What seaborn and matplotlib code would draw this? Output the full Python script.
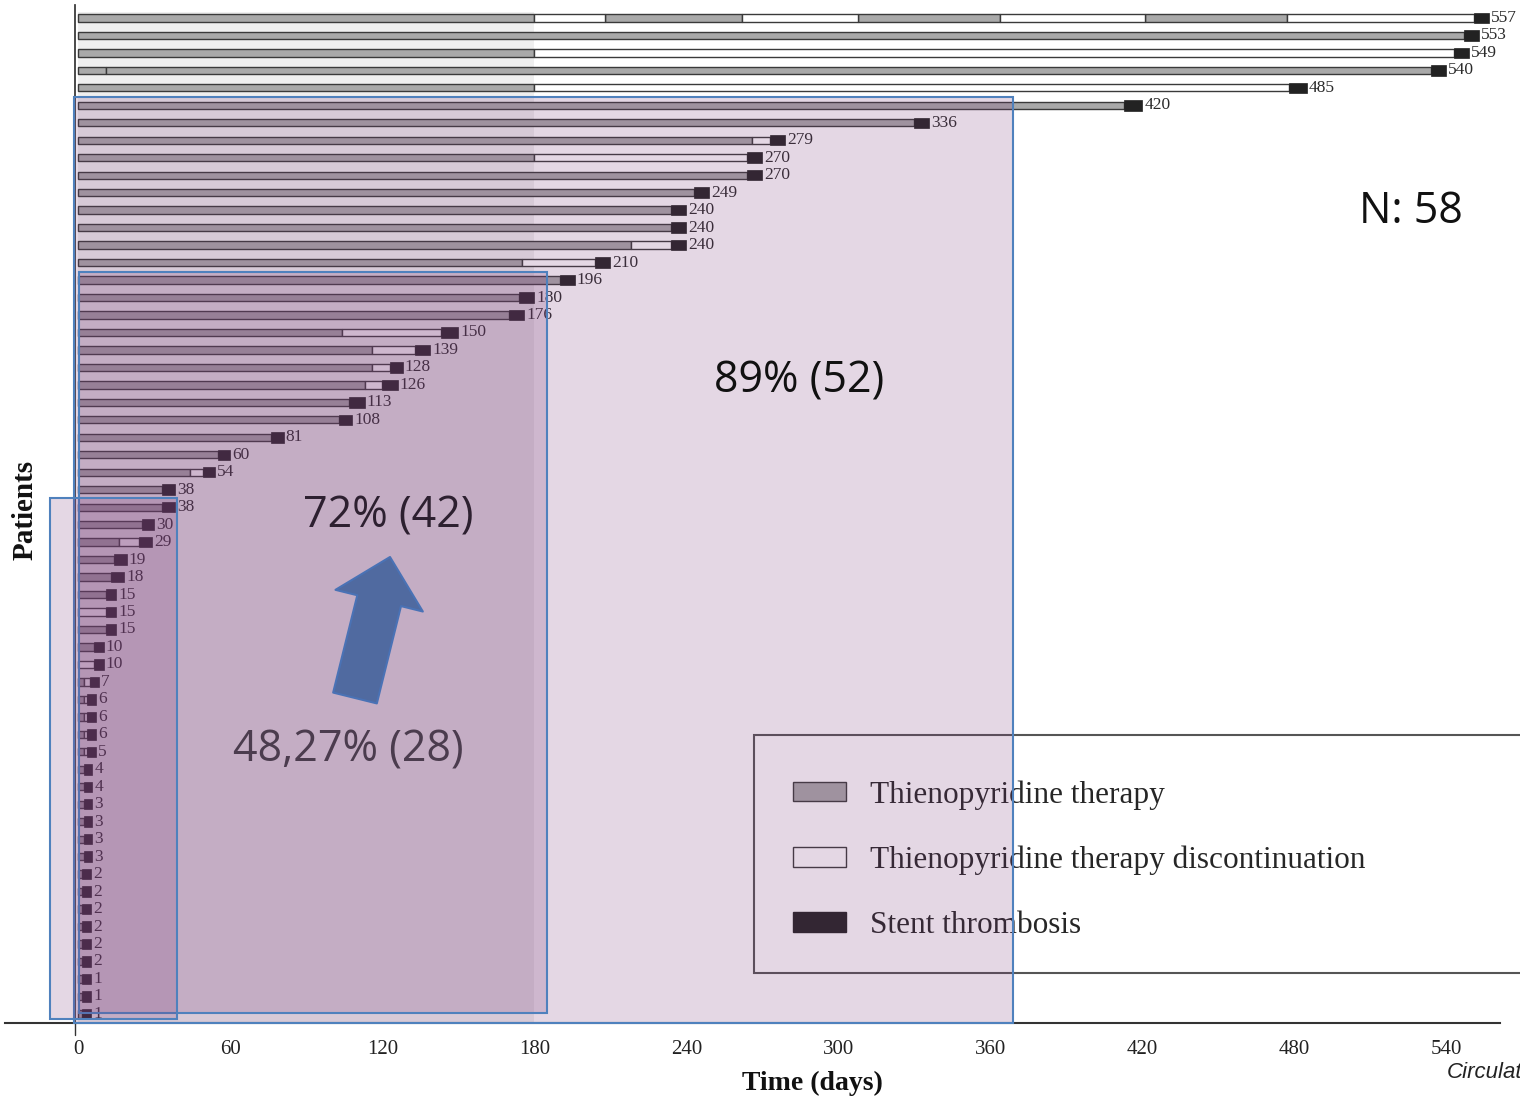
import matplotlib
matplotlib.use("Agg")
import matplotlib.pyplot as plt
import matplotlib.patches as mpatches
import seaborn as sns

# day of stent thrombosis for each of the 58 patients (top to bottom)
st_days = [557, 553, 549, 540, 485, 420, 336, 279, 270, 270, 249, 240, 240, 240, 210,
           196, 180, 176, 150, 139, 128, 126, 113, 108, 81, 60, 54, 38, 38, 30, 29,
           19, 18, 15, 15, 15, 10, 10, 7, 6, 6, 6, 5, 4, 4, 3, 3, 3, 3,
           2, 2, 2, 2, 2, 2, 1, 1, 1]

# thienopyridine therapy periods (days)
therapy = [
    [(0, 180), (208, 262), (308, 364), (421, 477)],  # 557
    [(0, 547)], [(0, 180)], [(0, 11), (11, 534)], [(0, 180)], [(0, 413)],
    [(0, 330)], [(0, 266)], [(0, 180)], [(0, 264)], [(0, 243)],
    [(0, 234)], [(0, 234)], [(0, 218)], [(0, 175)], [(0, 190)],
    [(0, 174)], [(0, 170)], [(0, 104)], [(0, 116)], [(0, 116)],
    [(0, 113)], [(0, 107)], [(0, 103)], [(0, 76)], [(0, 55)],
    [(0, 44)], [(0, 33)], [(0, 33)], [(0, 25)], [(0, 16)],
    [(0, 14)], [(0, 13)], [(0, 11)], [], [(0, 11)],
    [(0, 6)], [],
] + [[(0, 2)]] * 11 + [[(0, 1.5)]] * 9

# discontinuation periods (row index -> periods)
stopped = {
    0: [(180, 208), (262, 308), (364, 421), (477, 551)],
    2: [(180, 543)], 4: [(180, 478)], 7: [(266, 273)], 8: [(180, 264)],
    13: [(218, 234)], 14: [(175, 204)], 18: [(104, 143)], 19: [(116, 133)],
    20: [(116, 123)], 21: [(113, 120)], 26: [(44, 49)], 30: [(16, 24)],
    34: [(0, 11)], 37: [(0, 6)], 38: [(2, 4.5)],
    39: [(2, 3.5)], 40: [(2, 3.5)], 41: [(2, 3.5)], 42: [(2, 3.5)],
}

xticks = list(range(0, 541, 60))
legend_labels = ["Thienopyridine therapy", "Thienopyridine therapy discontinuation",
                 "Stent thrombosis"]

sns.set_theme(style="white")
plt.rcParams['font.family'] = ['Liberation Serif', 'DejaVu Serif']

W, H = 1520, 1100
fig = plt.figure(figsize=(W / 100, H / 100), dpi=100)
ax = fig.add_axes([5 / W, 77 / H, 1495 / W, 1018 / H])

c_gray, c_edge, c_dark = '#a9a9a9', '#3a3a3a', '#222222'

# faint band over the first 180 days
ax.fill_betweenx([-0.35, 57.52], 0, 180, color='#efefef', zorder=0.5, lw=0)

gy, gl, gw = [], [], []
sy, sl, sw = [], [], []
my, ml, mw = [], [], []
for i, d in enumerate(st_days):
    ends = [0]
    for a, b in therapy[i]:
        gy.append(i); gl.append(a); gw.append(b - a); ends.append(b)
    for a, b in stopped.get(i, []):
        sy.append(i); sl.append(a); sw.append(b - a); ends.append(b)
    start = max(ends)
    end = max(d, start + 3.5)
    my.append(i); ml.append(start); mw.append(end - start)
    ax.text(end + 0.8, i, str(d), ha='left', va='center', fontsize=12.5,
            color='#2b2b2b', zorder=2, clip_on=False)

ax.barh(gy, gw, left=gl, height=0.42, color=c_gray, edgecolor=c_edge, linewidth=1, zorder=2)
ax.barh(sy, sw, left=sl, height=0.42, color='white', edgecolor=c_edge, linewidth=1, zorder=2)
ax.barh(my, mw, left=ml, height=0.6, color=c_dark, edgecolor=c_dark, linewidth=0.5, zorder=2)

# legend box (drawn under the highlight boxes)
frame = mpatches.Rectangle((754 / W, 1 - 973 / H), 0.6, 238 / H, transform=fig.transFigure,
                           fc='white', ec='#555555', lw=1.5, zorder=1.5, clip_on=False)
ax.add_patch(frame)
handles = [mpatches.Patch(fc=c_gray, ec=c_edge), mpatches.Patch(fc='white', ec=c_edge),
           mpatches.Patch(fc=c_dark, ec=c_dark)]
leg = ax.legend(handles, legend_labels, loc='upper left',
                bbox_to_anchor=(793 / W, 1 - 780 / H), bbox_transform=fig.transFigure,
                frameon=False, borderpad=0, borderaxespad=0, fontsize=22.5,
                handlelength=1.7, handleheight=0.6, handletextpad=0.75, labelspacing=1.15)
leg.set_zorder(2)

# highlight boxes
tint = (0.478, 0.227, 0.478, 0.2)
for x0, x1, y0, y1 in [(-1.6, 369, 4.55, 57.52), (0.4, 185, 14.55, 56.95),
                       (-11.4, 39, 27.5, 57.3)]:
    ax.add_patch(mpatches.Rectangle((x0, y0), x1 - x0, y1 - y0, fc=tint, ec='#4f81bd',
                                    lw=1.5, zorder=3, clip_on=False))

ann = ax.annotate('', xy=(390, H - 557), xycoords='figure pixels',
                  xytext=(355, H - 698), textcoords='figure pixels',
                  arrowprops=dict(arrowstyle='simple,head_length=0.9,head_width=1.8,tail_width=0.9',
                                  fc='#506aa0', ec='#4a72b5', lw=1.5, mutation_scale=36,
                                  shrinkA=0, shrinkB=0))
ann.set_zorder(6)

ax.set_xlim(-29, 561.3)
ax.set_ylim(57.52, -0.74)
ax.set_xticks(xticks)
ax.set_yticks([])
ax.tick_params(axis='x', length=0, pad=12, labelsize=15, labelcolor='#222222')
for s in ['top', 'right']:
    ax.spines[s].set_visible(False)
ax.spines['left'].set_position(('data', -1.2))
ax.spines['left'].set_color('#333333')
ax.spines['bottom'].set_color('#333333')
ax.spines['bottom'].set_linewidth(1.5)
ax.plot([-1.2, -1.2], [57.52, 58.2], color='#333333', lw=1, clip_on=False)

fig.text(25 / W, 1 - 510 / H, 'Patients', rotation=90, ha='center', va='center',
         fontsize=21, fontweight='bold', color='#111111')
fig.text(812 / W, 1 - 1083 / H, 'Time (days)', ha='center', va='center',
         fontsize=20, fontweight='bold', color='#111111')
fig.text(1447 / W, 1 - 1072 / H, 'Circulation', ha='left', va='center', fontsize=16,
         style='italic', family=['Liberation Sans', 'DejaVu Sans'], color='#222222')

sans = ['Open Sans', 'DejaVu Sans']
fig.text(1411 / W, 1 - 212 / H, 'N: 58', ha='center', va='center', fontsize=31,
         family=sans, color='#111111')
fig.text(799 / W, 1 - 381 / H, '89% (52)', ha='center', va='center', fontsize=31,
         family=sans, color='#111111')
fig.text(388 / W, 1 - 516 / H, '72% (42)', ha='center', va='center', fontsize=31,
         family=sans, color='#2d2030')
fig.text(348 / W, 1 - 750 / H, '48,27% (28)', ha='center', va='center', fontsize=31,
         family=sans, color='#4b3c4e')

fig.savefig('out.png', dpi=100)
